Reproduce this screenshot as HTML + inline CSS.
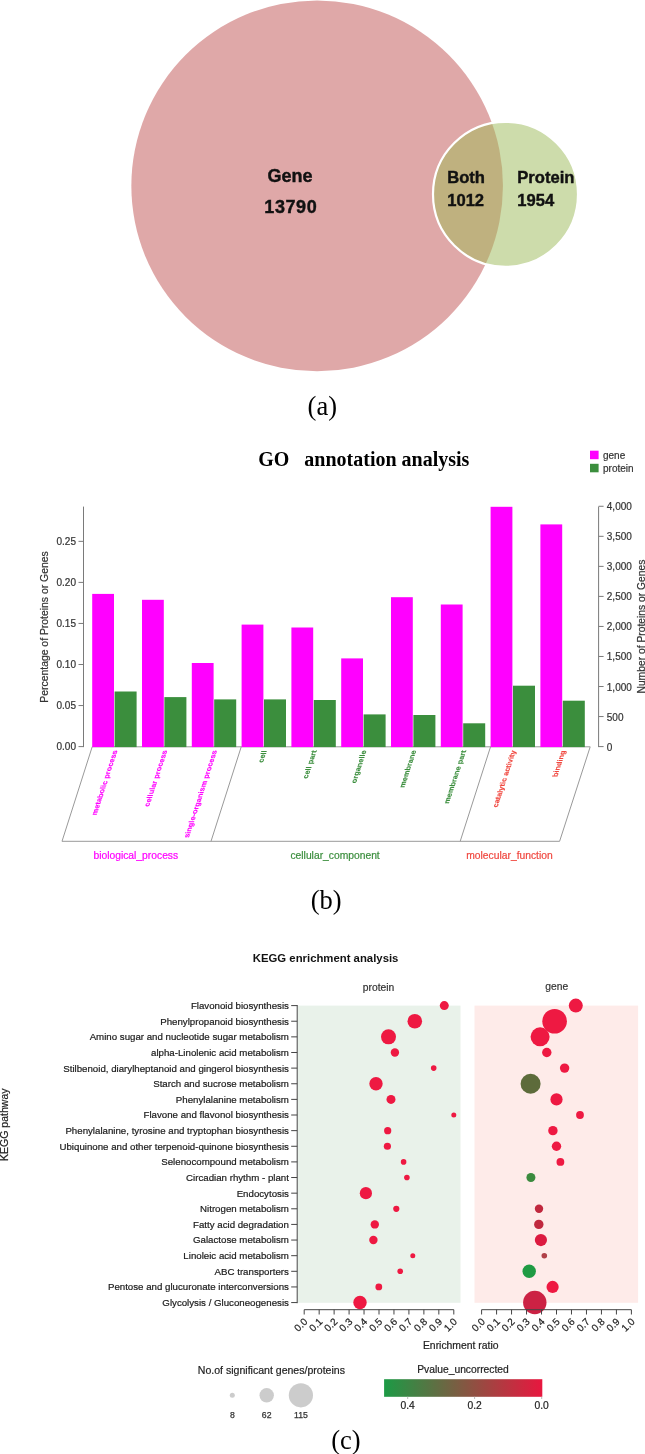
<!DOCTYPE html><html><head><meta charset="utf-8"><style>html,body{margin:0;padding:0;background:#fff;width:645px;height:1454px;overflow:hidden}svg{display:block;will-change:transform}</style></head><body>
<svg width="645" height="1454" viewBox="0 0 645 1454" font-family='"Liberation Sans", sans-serif'>
<rect width="645" height="1454" fill="#fff"/>
<defs><clipPath id="cb"><ellipse cx="317.15" cy="185.85" rx="185.8" ry="185.35"/></clipPath></defs>
<ellipse cx="317.15" cy="185.85" rx="185.8" ry="185.35" fill="#dfa8a8"/>
<circle cx="505.5" cy="194.3" r="72.5" fill="#cddcab"/>
<circle cx="505.5" cy="194.3" r="72.5" fill="#bfb17f" clip-path="url(#cb)"/>
<circle cx="505.5" cy="194.3" r="72.5" fill="none" stroke="#fff" stroke-width="2.2"/>
<g font-family='"Liberation Sans", sans-serif' font-weight="bold" fill="#111" stroke="#111" stroke-width="0.4">
<text x="290" y="181.7" font-size="18" text-anchor="middle">Gene</text>
<text x="290.8" y="213.4" font-size="18" letter-spacing="0.6" text-anchor="middle">13790</text>
<text x="447.2" y="183.2" font-size="16.6">Both</text>
<text x="447.2" y="205.6" font-size="16.6">1012</text>
<text x="517.3" y="183.2" font-size="16.6">Protein</text>
<text x="517.3" y="205.6" font-size="16.6">1954</text>
</g>
<text x="322.3" y="414.8" font-size="26.5" text-anchor="middle" font-family='"Liberation Serif", serif' fill="#000">(a)</text>
<text x="363.8" y="466" font-size="20" font-weight="bold" text-anchor="middle" font-family='"Liberation Serif", serif' fill="#000" xml:space="preserve">GO   annotation analysis</text>
<rect x="590" y="450.7" width="8.6" height="8.5" fill="#ff00ff"/>
<rect x="590" y="463.8" width="8.6" height="8.5" fill="#3b8e3d"/>
<text x="603" y="458.5" font-size="10" fill="#333" stroke="#333" stroke-width="0.2">gene</text>
<text x="603" y="471.5" font-size="10" fill="#333" stroke="#333" stroke-width="0.2">protein</text>
<g stroke="#7a7a7a" stroke-width="1" fill="none">
<line x1="83.5" y1="506.6" x2="83.5" y2="747.1"/>
<line x1="78.5" y1="746.60" x2="83.5" y2="746.60"/>
<line x1="78.5" y1="705.55" x2="83.5" y2="705.55"/>
<line x1="78.5" y1="664.50" x2="83.5" y2="664.50"/>
<line x1="78.5" y1="623.45" x2="83.5" y2="623.45"/>
<line x1="78.5" y1="582.40" x2="83.5" y2="582.40"/>
<line x1="78.5" y1="541.35" x2="83.5" y2="541.35"/>
<line x1="598.6" y1="506.6" x2="598.6" y2="747.1"/>
<line x1="598.6" y1="746.60" x2="603.6" y2="746.60"/>
<line x1="598.6" y1="716.56" x2="603.6" y2="716.56"/>
<line x1="598.6" y1="686.52" x2="603.6" y2="686.52"/>
<line x1="598.6" y1="656.48" x2="603.6" y2="656.48"/>
<line x1="598.6" y1="626.44" x2="603.6" y2="626.44"/>
<line x1="598.6" y1="596.40" x2="603.6" y2="596.40"/>
<line x1="598.6" y1="566.36" x2="603.6" y2="566.36"/>
<line x1="598.6" y1="536.32" x2="603.6" y2="536.32"/>
<line x1="598.6" y1="506.28" x2="603.6" y2="506.28"/>
</g>
<g font-size="10" fill="#333" stroke="#333" stroke-width="0.2" text-anchor="end">
<text x="76" y="750.20">0.00</text>
<text x="76" y="709.15">0.05</text>
<text x="76" y="668.10">0.10</text>
<text x="76" y="627.05">0.15</text>
<text x="76" y="586.00">0.20</text>
<text x="76" y="544.95">0.25</text>
</g>
<g font-size="10" fill="#333" stroke="#333" stroke-width="0.2">
<text x="606.8" y="750.60">0</text>
<text x="606.8" y="720.56">500</text>
<text x="606.8" y="690.52">1,000</text>
<text x="606.8" y="660.48">1,500</text>
<text x="606.8" y="630.44">2,000</text>
<text x="606.8" y="600.40">2,500</text>
<text x="606.8" y="570.36">3,000</text>
<text x="606.8" y="540.32">3,500</text>
<text x="606.8" y="510.28">4,000</text>
</g>
<text transform="translate(47.9,627) rotate(-90)" font-size="10.4" fill="#333" stroke="#333" stroke-width="0.2" text-anchor="middle">Percentage of Proteins or Genes</text>
<text transform="translate(644.7,626.6) rotate(-90)" font-size="10.3" fill="#333" stroke="#333" stroke-width="0.2" text-anchor="middle">Number of Proteins or Genes</text>
<g stroke="#999" stroke-width="1" fill="none">
<polyline points="92.2,746.8 590.2,746.8 559.6,841.3 62,841.3 92.2,746.8"/>
<line x1="241.2" y1="746.9" x2="211" y2="841.3"/>
<line x1="490.5" y1="746.9" x2="460.2" y2="841.3"/>
</g>
<rect x="92.20" y="593.90" width="21.8" height="153.20" fill="#ff00ff"/>
<rect x="114.60" y="691.50" width="22.0" height="55.60" fill="#3b8e3d"/>
<rect x="142.00" y="599.80" width="21.8" height="147.30" fill="#ff00ff"/>
<rect x="164.40" y="697.10" width="22.0" height="50.00" fill="#3b8e3d"/>
<rect x="191.80" y="663.00" width="21.8" height="84.10" fill="#ff00ff"/>
<rect x="214.20" y="699.40" width="22.0" height="47.70" fill="#3b8e3d"/>
<rect x="241.60" y="624.60" width="21.8" height="122.50" fill="#ff00ff"/>
<rect x="264.00" y="699.40" width="22.0" height="47.70" fill="#3b8e3d"/>
<rect x="291.40" y="627.50" width="21.8" height="119.60" fill="#ff00ff"/>
<rect x="313.80" y="700.00" width="22.0" height="47.10" fill="#3b8e3d"/>
<rect x="341.20" y="658.40" width="21.8" height="88.70" fill="#ff00ff"/>
<rect x="363.60" y="714.40" width="22.0" height="32.70" fill="#3b8e3d"/>
<rect x="391.00" y="597.20" width="21.8" height="149.90" fill="#ff00ff"/>
<rect x="413.40" y="715.00" width="22.0" height="32.10" fill="#3b8e3d"/>
<rect x="440.80" y="604.50" width="21.8" height="142.60" fill="#ff00ff"/>
<rect x="463.20" y="723.30" width="22.0" height="23.80" fill="#3b8e3d"/>
<rect x="490.60" y="506.80" width="21.8" height="240.30" fill="#ff00ff"/>
<rect x="513.00" y="685.70" width="22.0" height="61.40" fill="#3b8e3d"/>
<rect x="540.40" y="524.40" width="21.8" height="222.70" fill="#ff00ff"/>
<rect x="562.80" y="700.70" width="22.0" height="46.40" fill="#3b8e3d"/>
<text transform="translate(117.60,750.4) skewX(-18) rotate(-90)" font-size="7.4" font-weight="bold" fill="#ff00ff" stroke="#ff00ff" stroke-width="0.15" text-anchor="end">metabolic process</text>
<text transform="translate(167.40,750.4) skewX(-18) rotate(-90)" font-size="7.4" font-weight="bold" fill="#ff00ff" stroke="#ff00ff" stroke-width="0.15" text-anchor="end">cellular process</text>
<text transform="translate(217.20,750.4) skewX(-18) rotate(-90)" font-size="7.4" font-weight="bold" fill="#ff00ff" stroke="#ff00ff" stroke-width="0.15" text-anchor="end">single-organism process</text>
<text transform="translate(267.00,750.4) skewX(-18) rotate(-90)" font-size="7.4" font-weight="bold" fill="#3b8e3d" stroke="#3b8e3d" stroke-width="0.15" text-anchor="end">cell</text>
<text transform="translate(316.80,750.4) skewX(-18) rotate(-90)" font-size="7.4" font-weight="bold" fill="#3b8e3d" stroke="#3b8e3d" stroke-width="0.15" text-anchor="end">cell part</text>
<text transform="translate(366.60,750.4) skewX(-18) rotate(-90)" font-size="7.4" font-weight="bold" fill="#3b8e3d" stroke="#3b8e3d" stroke-width="0.15" text-anchor="end">organelle</text>
<text transform="translate(416.40,750.4) skewX(-18) rotate(-90)" font-size="7.4" font-weight="bold" fill="#3b8e3d" stroke="#3b8e3d" stroke-width="0.15" text-anchor="end">membrane</text>
<text transform="translate(466.20,750.4) skewX(-18) rotate(-90)" font-size="7.4" font-weight="bold" fill="#3b8e3d" stroke="#3b8e3d" stroke-width="0.15" text-anchor="end">membrane part</text>
<text transform="translate(516.00,750.4) skewX(-18) rotate(-90)" font-size="7.4" font-weight="bold" fill="#f0473f" stroke="#f0473f" stroke-width="0.15" text-anchor="end">catalytic activity</text>
<text transform="translate(565.80,750.4) skewX(-18) rotate(-90)" font-size="7.4" font-weight="bold" fill="#f0473f" stroke="#f0473f" stroke-width="0.15" text-anchor="end">binding</text>
<text x="135.8" y="859" font-size="10.3" fill="#ff00ff" stroke="#ff00ff" stroke-width="0.2" text-anchor="middle">biological_process</text>
<text x="335.1" y="859" font-size="10.3" fill="#3b8e3d" stroke="#3b8e3d" stroke-width="0.2" text-anchor="middle">cellular_component</text>
<text x="509.5" y="859" font-size="10.3" fill="#f0473f" stroke="#f0473f" stroke-width="0.2" text-anchor="middle">molecular_function</text>
<text x="326.25" y="909.3" font-size="26.5" text-anchor="middle" font-family='"Liberation Serif", serif' fill="#000">(b)</text>
<text x="325.6" y="962.2" font-size="11.35" font-weight="bold" text-anchor="middle" fill="#111">KEGG enrichment analysis</text>
<text x="378.6" y="991" font-size="10.3" fill="#333" stroke="#333" stroke-width="0.2" text-anchor="middle">protein</text>
<text x="556.7" y="990" font-size="10.3" fill="#333" stroke="#333" stroke-width="0.2" text-anchor="middle">gene</text>
<rect x="297.7" y="1005.6" width="162.8" height="297.2" fill="#e9f2ea"/>
<rect x="474.5" y="1005.6" width="163.6" height="297.2" fill="#feebe9"/>
<g stroke="#444" stroke-width="1" fill="none">
<line x1="297.2" y1="1005" x2="297.2" y2="1303.2"/>
<line x1="291.2" y1="1005.60" x2="297.2" y2="1005.60"/>
<line x1="291.2" y1="1021.23" x2="297.2" y2="1021.23"/>
<line x1="291.2" y1="1036.86" x2="297.2" y2="1036.86"/>
<line x1="291.2" y1="1052.49" x2="297.2" y2="1052.49"/>
<line x1="291.2" y1="1068.12" x2="297.2" y2="1068.12"/>
<line x1="291.2" y1="1083.75" x2="297.2" y2="1083.75"/>
<line x1="291.2" y1="1099.38" x2="297.2" y2="1099.38"/>
<line x1="291.2" y1="1115.01" x2="297.2" y2="1115.01"/>
<line x1="291.2" y1="1130.64" x2="297.2" y2="1130.64"/>
<line x1="291.2" y1="1146.27" x2="297.2" y2="1146.27"/>
<line x1="291.2" y1="1161.90" x2="297.2" y2="1161.90"/>
<line x1="291.2" y1="1177.53" x2="297.2" y2="1177.53"/>
<line x1="291.2" y1="1193.16" x2="297.2" y2="1193.16"/>
<line x1="291.2" y1="1208.79" x2="297.2" y2="1208.79"/>
<line x1="291.2" y1="1224.42" x2="297.2" y2="1224.42"/>
<line x1="291.2" y1="1240.05" x2="297.2" y2="1240.05"/>
<line x1="291.2" y1="1255.68" x2="297.2" y2="1255.68"/>
<line x1="291.2" y1="1271.31" x2="297.2" y2="1271.31"/>
<line x1="291.2" y1="1286.94" x2="297.2" y2="1286.94"/>
<line x1="291.2" y1="1302.57" x2="297.2" y2="1302.57"/>
</g>
<g font-size="9.7" fill="#1a1a1a" stroke="#1a1a1a" stroke-width="0.2" text-anchor="end">
<text x="288.9" y="1009.00">Flavonoid biosynthesis</text>
<text x="288.9" y="1024.63">Phenylpropanoid biosynthesis</text>
<text x="288.9" y="1040.26">Amino sugar and nucleotide sugar metabolism</text>
<text x="288.9" y="1055.89">alpha-Linolenic acid metabolism</text>
<text x="288.9" y="1071.52">Stilbenoid, diarylheptanoid and gingerol biosynthesis</text>
<text x="288.9" y="1087.15">Starch and sucrose metabolism</text>
<text x="288.9" y="1102.78">Phenylalanine metabolism</text>
<text x="288.9" y="1118.41">Flavone and flavonol biosynthesis</text>
<text x="288.9" y="1134.04">Phenylalanine, tyrosine and tryptophan biosynthesis</text>
<text x="288.9" y="1149.67">Ubiquinone and other terpenoid-quinone biosynthesis</text>
<text x="288.9" y="1165.30">Selenocompound metabolism</text>
<text x="288.9" y="1180.93">Circadian rhythm - plant</text>
<text x="288.9" y="1196.56">Endocytosis</text>
<text x="288.9" y="1212.19">Nitrogen metabolism</text>
<text x="288.9" y="1227.82">Fatty acid degradation</text>
<text x="288.9" y="1243.45">Galactose metabolism</text>
<text x="288.9" y="1259.08">Linoleic acid metabolism</text>
<text x="288.9" y="1274.71">ABC transporters</text>
<text x="288.9" y="1290.34">Pentose and glucuronate interconversions</text>
<text x="288.9" y="1305.97">Glycolysis / Gluconeogenesis</text>
</g>
<text transform="translate(8.1,1124.7) rotate(-90)" font-size="10.5" fill="#222" stroke="#222" stroke-width="0.2" text-anchor="middle">KEGG pathway</text>
<circle cx="444.30" cy="1005.60" r="4.50" fill="#ee1942"/>
<circle cx="414.80" cy="1021.23" r="7.30" fill="#ee1942"/>
<circle cx="388.50" cy="1036.86" r="7.50" fill="#ee1942"/>
<circle cx="394.90" cy="1052.49" r="4.20" fill="#ee1942"/>
<circle cx="433.70" cy="1068.12" r="2.80" fill="#ee1942"/>
<circle cx="376.00" cy="1083.75" r="6.70" fill="#ee1942"/>
<circle cx="391.00" cy="1099.38" r="4.50" fill="#ee1942"/>
<circle cx="453.80" cy="1115.01" r="2.50" fill="#ee1942"/>
<circle cx="387.70" cy="1130.64" r="3.60" fill="#ee1942"/>
<circle cx="387.40" cy="1146.27" r="3.60" fill="#ee1942"/>
<circle cx="403.60" cy="1161.90" r="2.80" fill="#ee1942"/>
<circle cx="406.90" cy="1177.53" r="2.80" fill="#ee1942"/>
<circle cx="365.90" cy="1193.16" r="6.10" fill="#ee1942"/>
<circle cx="396.30" cy="1208.79" r="3.10" fill="#ee1942"/>
<circle cx="374.80" cy="1224.42" r="4.20" fill="#ee1942"/>
<circle cx="373.40" cy="1240.05" r="4.20" fill="#ee1942"/>
<circle cx="412.80" cy="1255.68" r="2.50" fill="#ee1942"/>
<circle cx="400.20" cy="1271.31" r="2.80" fill="#ee1942"/>
<circle cx="378.80" cy="1286.94" r="3.40" fill="#ee1942"/>
<circle cx="360.00" cy="1302.57" r="6.70" fill="#ee1942"/>
<circle cx="575.80" cy="1005.60" r="7.00" fill="#ee1942"/>
<circle cx="554.60" cy="1021.23" r="12.30" fill="#ee1942"/>
<circle cx="540.10" cy="1036.86" r="9.50" fill="#ee1942"/>
<circle cx="546.80" cy="1052.49" r="4.70" fill="#ee1942"/>
<circle cx="564.60" cy="1068.12" r="4.70" fill="#ee1942"/>
<circle cx="530.60" cy="1083.75" r="10.00" fill="#5d6b3b"/>
<circle cx="556.50" cy="1099.38" r="6.10" fill="#ee1942"/>
<circle cx="580.00" cy="1115.01" r="3.90" fill="#ee1942"/>
<circle cx="552.90" cy="1130.64" r="4.70" fill="#ee1942"/>
<circle cx="556.50" cy="1146.27" r="4.70" fill="#ee1942"/>
<circle cx="560.40" cy="1161.90" r="3.90" fill="#ee1942"/>
<circle cx="530.90" cy="1177.53" r="4.50" fill="#3b8a3e"/>
<circle cx="539.00" cy="1208.79" r="4.20" fill="#c0283e"/>
<circle cx="538.80" cy="1224.42" r="4.70" fill="#c0283e"/>
<circle cx="540.90" cy="1240.05" r="6.10" fill="#dc1a40"/>
<circle cx="544.30" cy="1255.68" r="2.80" fill="#b04048"/>
<circle cx="529.20" cy="1271.31" r="6.70" fill="#1f9a43"/>
<circle cx="552.60" cy="1286.94" r="6.10" fill="#ee1942"/>
<circle cx="534.80" cy="1302.57" r="11.70" fill="#cc2244"/>
<g stroke="#444" stroke-width="1" fill="none">
<line x1="304.20" y1="1309.7" x2="453.80" y2="1309.7"/>
<line x1="304.20" y1="1309.7" x2="304.20" y2="1314.5"/>
<line x1="319.16" y1="1309.7" x2="319.16" y2="1314.5"/>
<line x1="334.12" y1="1309.7" x2="334.12" y2="1314.5"/>
<line x1="349.08" y1="1309.7" x2="349.08" y2="1314.5"/>
<line x1="364.04" y1="1309.7" x2="364.04" y2="1314.5"/>
<line x1="379.00" y1="1309.7" x2="379.00" y2="1314.5"/>
<line x1="393.96" y1="1309.7" x2="393.96" y2="1314.5"/>
<line x1="408.92" y1="1309.7" x2="408.92" y2="1314.5"/>
<line x1="423.88" y1="1309.7" x2="423.88" y2="1314.5"/>
<line x1="438.84" y1="1309.7" x2="438.84" y2="1314.5"/>
<line x1="453.80" y1="1309.7" x2="453.80" y2="1314.5"/>
</g>
<g font-size="10" fill="#222" stroke="#222" stroke-width="0.2" text-anchor="end">
<text transform="translate(308.20,1322.4) rotate(-45)">0.0</text>
<text transform="translate(323.16,1322.4) rotate(-45)">0.1</text>
<text transform="translate(338.12,1322.4) rotate(-45)">0.2</text>
<text transform="translate(353.08,1322.4) rotate(-45)">0.3</text>
<text transform="translate(368.04,1322.4) rotate(-45)">0.4</text>
<text transform="translate(383.00,1322.4) rotate(-45)">0.5</text>
<text transform="translate(397.96,1322.4) rotate(-45)">0.6</text>
<text transform="translate(412.92,1322.4) rotate(-45)">0.7</text>
<text transform="translate(427.88,1322.4) rotate(-45)">0.8</text>
<text transform="translate(442.84,1322.4) rotate(-45)">0.9</text>
<text transform="translate(457.80,1322.4) rotate(-45)">1.0</text>
</g>
<g stroke="#444" stroke-width="1" fill="none">
<line x1="481.60" y1="1309.7" x2="631.40" y2="1309.7"/>
<line x1="481.60" y1="1309.7" x2="481.60" y2="1314.5"/>
<line x1="496.58" y1="1309.7" x2="496.58" y2="1314.5"/>
<line x1="511.56" y1="1309.7" x2="511.56" y2="1314.5"/>
<line x1="526.54" y1="1309.7" x2="526.54" y2="1314.5"/>
<line x1="541.52" y1="1309.7" x2="541.52" y2="1314.5"/>
<line x1="556.50" y1="1309.7" x2="556.50" y2="1314.5"/>
<line x1="571.48" y1="1309.7" x2="571.48" y2="1314.5"/>
<line x1="586.46" y1="1309.7" x2="586.46" y2="1314.5"/>
<line x1="601.44" y1="1309.7" x2="601.44" y2="1314.5"/>
<line x1="616.42" y1="1309.7" x2="616.42" y2="1314.5"/>
<line x1="631.40" y1="1309.7" x2="631.40" y2="1314.5"/>
</g>
<g font-size="10" fill="#222" stroke="#222" stroke-width="0.2" text-anchor="end">
<text transform="translate(485.60,1322.4) rotate(-45)">0.0</text>
<text transform="translate(500.58,1322.4) rotate(-45)">0.1</text>
<text transform="translate(515.56,1322.4) rotate(-45)">0.2</text>
<text transform="translate(530.54,1322.4) rotate(-45)">0.3</text>
<text transform="translate(545.52,1322.4) rotate(-45)">0.4</text>
<text transform="translate(560.50,1322.4) rotate(-45)">0.5</text>
<text transform="translate(575.48,1322.4) rotate(-45)">0.6</text>
<text transform="translate(590.46,1322.4) rotate(-45)">0.7</text>
<text transform="translate(605.44,1322.4) rotate(-45)">0.8</text>
<text transform="translate(620.42,1322.4) rotate(-45)">0.9</text>
<text transform="translate(635.40,1322.4) rotate(-45)">1.0</text>
</g>
<text x="460.75" y="1349" font-size="10.4" fill="#222" stroke="#222" stroke-width="0.2" text-anchor="middle">Enrichment ratio</text>
<text x="197.8" y="1373.7" font-size="10.55" fill="#222" stroke="#222" stroke-width="0.2">No.of significant genes/proteins</text>
<circle cx="232.3" cy="1395.3" r="2.5" fill="#cccccc"/>
<text x="232.3" y="1418.3" font-size="8.7" fill="#333" stroke="#333" stroke-width="0.25" text-anchor="middle">8</text>
<circle cx="266.7" cy="1395.3" r="7.2" fill="#cccccc"/>
<text x="266.7" y="1418.3" font-size="8.7" fill="#333" stroke="#333" stroke-width="0.25" text-anchor="middle">62</text>
<circle cx="300.9" cy="1395.3" r="12.1" fill="#cccccc"/>
<text x="300.9" y="1418.3" font-size="8.7" fill="#333" stroke="#333" stroke-width="0.25" text-anchor="middle">115</text>
<defs><linearGradient id="pg" x1="0" x2="1" y1="0" y2="0"><stop offset="0" stop-color="#1c9a45"/><stop offset="1" stop-color="#e8173f"/></linearGradient></defs>
<text x="463" y="1372.6" font-size="10.3" fill="#222" stroke="#222" stroke-width="0.2" text-anchor="middle">Pvalue_uncorrected</text>
<rect x="384.1" y="1379.2" width="158.2" height="17.6" fill="url(#pg)"/>
<line x1="407.7" y1="1396.8" x2="407.7" y2="1399" stroke="#bbb" stroke-width="1"/>
<text x="407.7" y="1409.3" font-size="10.3" fill="#222" stroke="#222" stroke-width="0.2" text-anchor="middle">0.4</text>
<line x1="474.6" y1="1396.8" x2="474.6" y2="1399" stroke="#bbb" stroke-width="1"/>
<text x="474.6" y="1409.3" font-size="10.3" fill="#222" stroke="#222" stroke-width="0.2" text-anchor="middle">0.2</text>
<line x1="541.7" y1="1396.8" x2="541.7" y2="1399" stroke="#bbb" stroke-width="1"/>
<text x="541.7" y="1409.3" font-size="10.3" fill="#222" stroke="#222" stroke-width="0.2" text-anchor="middle">0.0</text>
<text x="346" y="1448.8" font-size="26.5" text-anchor="middle" font-family='"Liberation Serif", serif' fill="#000">(c)</text>
</svg></body></html>
